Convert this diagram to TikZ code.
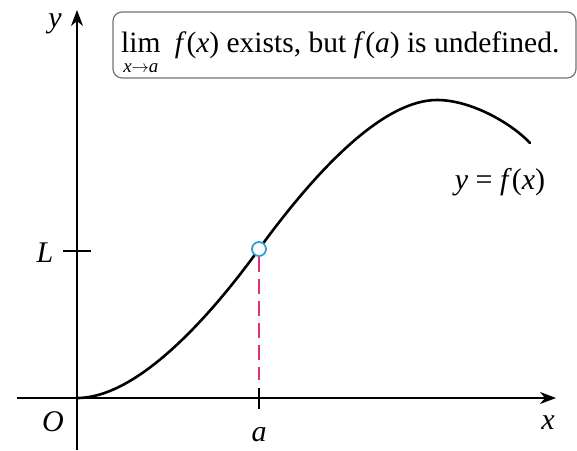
\documentclass[tikz,border=0pt]{standalone}
\usepackage{fontspec}
\setmainfont{Liberation Serif}
\usetikzlibrary{arrows.meta}
\definecolor{holeblue}{HTML}{2A9FD8}
\definecolor{dashpink}{HTML}{E0307A}
\tikzset{
  axis/.style={line width=1.3pt,-{Stealth[length=16pt,width=12pt,inset=5pt]}},
  tickline/.style={line width=1.3pt},
  curve/.style={line width=2.6pt,line cap=round},
  lbl/.style={inner sep=0pt,anchor=base,font=\fontsize{30}{34}\selectfont},
  notetext/.style={inner sep=0pt,anchor=base west,font=\fontsize{29.5}{34}\selectfont},
  subtext/.style={inner sep=0pt,anchor=base,font=\fontsize{19}{19}\selectfont},
  hole/.style={circle,draw=holeblue,fill=white,line width=1.8pt,minimum size=14pt,inner sep=0pt},
  guide/.style={dashpink,line width=1.8pt,dash pattern=on 15pt off 7pt},
  note/.style={draw=black!55,rounded corners=9pt,line width=1.2pt,inner sep=0pt}
}
\begin{document}
\begin{tikzpicture}[x=1pt,y=-1pt]
\useasboundingbox (0,0) rectangle (577,450);
% axes
\coordinate (xs) at (17,398);
\coordinate (xe) at (556,398);
\coordinate (ys) at (77,450);
\coordinate (ye) at (77,10);
\draw[axis] (xs) -- (xe);
\draw[axis] (ys) -- (ye);
% ticks
\coordinate (ta1) at (259,388);
\coordinate (ta2) at (259,409);
\coordinate (tl1) at (63,251);
\coordinate (tl2) at (91,251);
\draw[tickline] (ta1) -- (ta2);
\draw[tickline] (tl1) -- (tl2);
% curve
\coordinate (c0) at (77,398);
\coordinate (c1) at (259,249);
\coordinate (c2) at (437,100);
\coordinate (c3) at (530,143);
\draw[curve] (c0) .. controls (140,398) and (215,310) .. (c1)
  .. controls (320,165) and (385,100) .. (c2)
  .. controls (470,100) and (510,122) .. (c3);
% hole and dashed line
\node[hole] (h) at (c1) {};
\coordinate (foot) at (259,380);
\draw[guide] (h.south) -- (foot);
% labels
\node[lbl] (ylab) at (55,27) {\textit{y}};
\node[lbl] (xlab) at (548,429) {\textit{x}};
\node[lbl] (olab) at (53,431) {\textit{O}};
\node[lbl] (alab) at (259,441) {\textit{a}};
\node[lbl] (llab) at (45,262) {\textit{L}};
\node[lbl] (flab) at (500,189) {\textit{y} = \textit{f}(\textit{x})};
% note box
\draw[note] (113,12) rectangle (576,78);
\node[notetext] (lim) at (121,52) {lim};
\node[subtext] (limsub) at ([yshift=-20pt]lim.base) {\textit{x}$\to$\textit{a}};
\node[notetext] (note) at ([xshift=14pt]lim.base east) {\textit{f}(\textit{x}) exists, but \textit{f}(\textit{a}) is undefined.};
\end{tikzpicture}
\end{document}
